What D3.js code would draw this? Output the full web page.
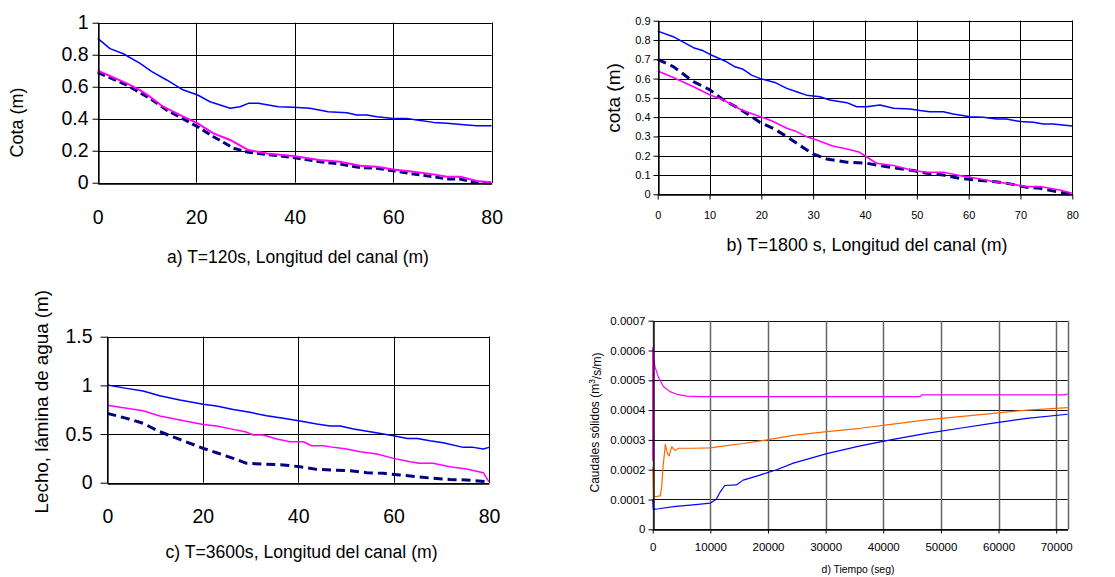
<!DOCTYPE html>
<html><head><meta charset="utf-8">
<script src="https://cdn.jsdelivr.net/npm/d3@7"></script>
<style>
body{margin:0;background:#fff}
svg{display:block}
text{font-family:"Liberation Sans",Arial,sans-serif;fill:#000}
</style>
</head><body>
<svg id="c" width="1115" height="577"></svg>
<script>
// ---------- Panel a: T=120s ----------
const aWaterX = [0,2.5,5.2,8.6,11,14,17.4,20.3,22.8,26.9,28.9,30.6,32.6,36.7,39.7,43.1,46.8,50.6,52.6,54.6,56.7,60,62.7,64.8,68.2,70.9,75,77,80];
const aWaterY = [0.902,0.838,0.806,0.746,0.694,0.642,0.579,0.548,0.506,0.465,0.475,0.496,0.496,0.475,0.471,0.465,0.444,0.4375,0.423,0.423,0.4125,0.402,0.402,0.392,0.377,0.371,0.36,0.356,0.356];
const aCalcX = [0,2.5,5.9,8.6,10.6,13.3,17.4,20.3,23.5,26.9,30.6,34.3,39.7,45,49.2,53.3,56.7,60,64.1,68.2,70.9,73.6,77,80];
const aCalcY = [0.70,0.667,0.621,0.579,0.5375,0.475,0.4125,0.371,0.308,0.267,0.204,0.183,0.167,0.142,0.131,0.106,0.1,0.083,0.069,0.052,0.0375,0.0375,0.0104,0.002];
const aBedX = [0,5.9,10.6,14,20.3,23.5,27.6,30.6,34.3,39.7,45,49.2,53.3,56.7,60,64.1,68.2,70.9,73.6,77,80];
const aBedY = [0.69,0.61,0.527,0.454,0.35,0.2875,0.215,0.19,0.177,0.158,0.131,0.117,0.094,0.09,0.075,0.054,0.0375,0.023,0.023,0,0];
const aXTicks = [0,20,40,60,80];
const aYTicks = [0,0.2,0.4,0.6,0.8,1];

// ---------- Panel b: T=1800 s ----------
const bWaterX = [0,3,6.9,8.8,10.1,13.3,14.9,16.5,18.1,19.7,22.6,24.9,26.8,28.7,31.3,33.2,36.5,38.4,40.3,42.9,45.5,48.7,50.6,52.5,55.1,57,60.3,62.8,65.4,67.3,69.9,72.5,74.4,76.3,80];
const bWaterY = [0.846,0.817,0.760,0.744,0.725,0.687,0.661,0.648,0.618,0.601,0.580,0.549,0.532,0.514,0.506,0.489,0.475,0.454,0.454,0.463,0.446,0.442,0.434,0.428,0.428,0.416,0.402,0.399,0.390,0.390,0.377,0.373,0.364,0.364,0.354];
const bCalcX = [0,3,6.9,10.1,12.7,16.2,19.7,20.7,22.3,24.9,26.8,28.7,30.7,33.6,36.5,38.7,40,42.2,45.5,49.3,51.9,55.1,58.3,61.5,64.8,68,71.2,73.8,77.6,80];
const bCalcY = [0.639,0.606,0.558,0.515,0.489,0.437,0.403,0.394,0.377,0.342,0.325,0.299,0.282,0.252,0.235,0.221,0.200,0.161,0.149,0.123,0.114,0.114,0.097,0.083,0.066,0.054,0.040,0.040,0.022,0.005];
const bBedX = [0,3,6.9,10.1,12.7,15.6,18.1,19.7,22.3,24.9,27.5,30,32.6,36.5,40.3,42.9,45.5,49.3,51.9,55.1,58.3,61.5,64.8,68,71.2,73.8,77.6,80];
const bBedY = [0.700,0.662,0.584,0.541,0.489,0.446,0.403,0.373,0.342,0.299,0.252,0.209,0.183,0.166,0.161,0.149,0.138,0.123,0.109,0.100,0.083,0.074,0.066,0.054,0.036,0.031,0.010,0];
const bXTicks = [0,10,20,30,40,50,60,70,80];
const bYTicks = [0,0.1,0.2,0.3,0.4,0.5,0.6,0.7,0.8,0.9];

// ---------- Panel c: T=3600s ----------
const cWaterX = [0,4.05,7.5,11,15.2,20.1,22.9,26.4,29.9,33.4,36.9,40.4,43.9,46.7,48.8,51.6,55.1,60,62.9,65,67.6,70.4,74.6,76.7,78.8,80];
const cWaterY = [1.003,0.969,0.942,0.894,0.849,0.805,0.788,0.753,0.723,0.688,0.661,0.634,0.603,0.582,0.582,0.551,0.524,0.483,0.455,0.455,0.432,0.411,0.363,0.363,0.346,0.363];
const cCalcX = [0,4.05,7.5,11,15.2,20.1,22.9,26.4,28.9,30.6,32.7,35.5,38.3,41.1,42.8,45.3,47.4,50.2,53,56.5,60,63.5,65.5,68.3,71.8,75.3,78.8,80];
const cCalcY = [0.795,0.764,0.740,0.685,0.644,0.599,0.582,0.548,0.524,0.490,0.490,0.449,0.421,0.421,0.380,0.380,0.363,0.346,0.318,0.295,0.250,0.216,0.199,0.199,0.164,0.140,0.103,0.01];
const cBedX = [0,4.05,7.5,11,15.2,20.1,22.9,26.4,29.2,32.7,36.9,40.4,43.9,47.4,50.9,54.4,57.9,61.3,64.8,68.3,71.8,75.3,80];
const cBedY = [0.712,0.661,0.610,0.524,0.445,0.353,0.308,0.250,0.199,0.192,0.182,0.164,0.137,0.130,0.123,0.103,0.096,0.079,0.062,0.045,0.034,0.027,0.01];
const cXTicks = [0,20,40,60,80];
const cYTicks = [0,0.5,1,1.5];

// ---------- Panel d: sediment discharge vs time ----------
const dMagT = [0,0,100,400,1000,1850,3000,4200,5900,8200,46500,46600,71500,72000];
const dMagV = [0.00023,0.00061,0.00058,0.000545,0.00051,0.000479,0.000462,0.000453,0.000447,0.000445,0.000445,0.000451,0.000451,0.000455];
const dOrgT = [0,150,600,1300,1550,1800,2200,2550,2850,3300,3900,4500,7000,10000,12800,15700,19800,24400,30200,36000,41700,47500,53300,59100,64900,72000];
const dOrgV = [0.00021,0.00011,0.00011,0.000112,0.00014,0.00021,0.000285,0.000255,0.000246,0.000277,0.000264,0.000272,0.000272,0.000273,0.000281,0.000288,0.0003,0.000315,0.000328,0.000339,0.000353,0.000367,0.000378,0.000389,0.0004,0.000408];
const dBluT = [0,100,1000,4000,7000,10000,11000,11700,12500,14500,15700,18600,21500,24400,30200,36000,41700,47500,53300,59100,64900,72000];
const dBluV = [0.0001,0.000067,0.000069,0.000077,0.000082,0.000088,0.0001,0.000125,0.000147,0.000149,0.000165,0.000182,0.0002,0.000222,0.000254,0.00028,0.000302,0.000322,0.000339,0.000356,0.000372,0.000386];
const dXTicks = [0,10000,20000,30000,40000,50000,60000,70000];
const dYTicks = [0,0.0001,0.0002,0.0003,0.0004,0.0005,0.0006,0.0007];

const svg = d3.select("#c");
const zip = (xs, ys) => xs.map((v, i) => [v, ys[i]]);

function panel(cfg) {
  const x = d3.scaleLinear().domain(cfg.xDomain).range([cfg.l, cfg.r]);
  const y = d3.scaleLinear().domain(cfg.yDomain).range([cfg.b, cfg.t]);
  const g = svg.append("g");
  // horizontal grid
  g.selectAll(null).data(cfg.yTicks).join("line")
    .attr("x1", cfg.l).attr("x2", cfg.r)
    .attr("y1", d => Math.round(y(d)) + 0.5).attr("y2", d => Math.round(y(d)) + 0.5)
    .attr("stroke", cfg.gridH).attr("stroke-width", cfg.gwH);
  // vertical grid
  g.selectAll(null).data(cfg.xTicks.concat([cfg.xDomain[1]])).join("line")
    .attr("y1", cfg.t).attr("y2", cfg.b)
    .attr("x1", d => Math.round(x(d)) + 0.5).attr("x2", d => Math.round(x(d)) + 0.5)
    .attr("stroke", cfg.gridV).attr("stroke-width", cfg.gwV);
  // series
  const line = d3.line().x(d => x(d[0])).y(d => y(d[1]));
  cfg.series.forEach(s => {
    g.append("path").attr("d", line(s.data)).attr("fill", "none")
      .attr("stroke", s.color).attr("stroke-width", s.w)
      .attr("stroke-dasharray", s.dash || null)
      .attr("stroke-linejoin", "round");
  });
  // axes
  const ay = g.append("g").attr("transform", `translate(${Math.round(cfg.l) + 0.5},0)`)
    .call(d3.axisLeft(y).tickValues(cfg.yTicks).tickFormat(d => String(d))
      .tickSize(cfg.yts).tickPadding(cfg.ytp).tickSizeOuter(0));
  const ax = g.append("g").attr("transform", `translate(0,${Math.round(cfg.b) + 0.5})`)
    .call(d3.axisBottom(x).tickValues(cfg.xTicks).tickFormat(d => String(d))
      .tickSize(cfg.xts).tickPadding(cfg.xtp).tickSizeOuter(0));
  [ay, ax].forEach(a => {
    a.select(".domain").attr("stroke", "#000").attr("stroke-width", 1.3);
    a.selectAll(".tick line").attr("stroke", "#000");
    a.selectAll("text").attr("font-size", cfg.tickFont + "px")
      .attr("font-family", '"Liberation Sans", Arial, sans-serif').attr("fill", "#000");
  });
  // caption
  g.append("text").attr("x", cfg.capX).attr("y", cfg.capY).attr("dy", "0.35em")
    .attr("text-anchor", "middle").attr("font-size", cfg.capFont + "px").text(cfg.caption);
  // y title
  const yt = g.append("text").attr("transform", `translate(${cfg.ytX},${cfg.ytY}) rotate(-90)`)
    .attr("dy", "0.35em").attr("text-anchor", "middle").attr("font-size", cfg.ytFont + "px");
  if (cfg.ytParts) {
    cfg.ytParts.forEach(p => {
      const ts = yt.append("tspan").text(p.t);
      if (p.sup) ts.attr("dy", "-0.45em").attr("font-size", "0.7em");
      if (p.after) ts.attr("dy", "0.45em");
    });
  } else yt.text(cfg.yTitle);
}

// Panel a
panel({
  l: 97.7, r: 491.7, t: 22.7, b: 182.7, xDomain: [0, 80], yDomain: [0, 1],
  xTicks: aXTicks, yTicks: aYTicks, gridH: "#000", gridV: "#000", gwH: 1, gwV: 1,
  yts: 6, ytp: 4, xts: 0, xtp: 27, tickFont: 19.5,
  caption: "a) T=120s, Longitud del canal (m)", capX: 298, capY: 256.7, capFont: 17.5,
  yTitle: "Cota (m)", ytX: 17, ytY: 122.5, ytFont: 18,
  series: [
    { data: zip(aBedX, aBedY), color: "#000080", w: 3, dash: "8,4" },
    { data: zip(aCalcX, aCalcY), color: "#FF00FF", w: 2 },
    { data: zip(aWaterX, aWaterY), color: "#0000FF", w: 1.5 }
  ]
});

// Panel b
panel({
  l: 657.7, r: 1072.3, t: 20.7, b: 194.3, xDomain: [0, 80], yDomain: [0, 0.9],
  xTicks: bXTicks, yTicks: bYTicks, gridH: "#000", gridV: "#000", gwH: 1, gwV: 1,
  yts: 5, ytp: 3, xts: 5, xtp: 12, tickFont: 11,
  caption: "b) T=1800 s, Longitud del canal (m)", capX: 867, capY: 245, capFont: 17.8,
  yTitle: "cota (m)", ytX: 613, ytY: 98, ytFont: 19,
  series: [
    { data: zip(bBedX, bBedY), color: "#000080", w: 3, dash: "9,5" },
    { data: zip(bCalcX, bCalcY), color: "#FF00FF", w: 1.6 },
    { data: zip(bWaterX, bWaterY), color: "#0000FF", w: 1.5 }
  ]
});

// Panel c
panel({
  l: 107.3, r: 489, t: 336.7, b: 482.7, xDomain: [0, 80], yDomain: [0, 1.5],
  xTicks: cXTicks, yTicks: cYTicks, gridH: "#000", gridV: "#000", gwH: 1, gwV: 1,
  yts: 7, ytp: 8, xts: 0, xtp: 25.5, tickFont: 19.5,
  caption: "c) T=3600s, Longitud del canal (m)", capX: 301.5, capY: 551.7, capFont: 17.6,
  yTitle: "Lecho, lámina de agua (m)", ytX: 41.7, ytY: 401.7, ytFont: 18.8,
  series: [
    { data: zip(cBedX, cBedY), color: "#000080", w: 3, dash: "9,5" },
    { data: zip(cCalcX, cCalcY), color: "#FF00FF", w: 1.5 },
    { data: zip(cWaterX, cWaterY), color: "#0000FF", w: 1.5 }
  ]
});

// Panel d
panel({
  l: 652.7, r: 1067.7, t: 320.7, b: 529.3, xDomain: [0, 72000], yDomain: [0, 0.0007],
  xTicks: dXTicks, yTicks: dYTicks, gridH: "#111", gridV: "#666", gwH: 1.2, gwV: 1.5,
  yts: 5, ytp: 3, xts: 4, xtp: 9.5, tickFont: 11.5,
  caption: "d) Tiempo (seg)", capX: 858, capY: 569.3, capFont: 10.4,
  ytParts: [{ t: "Caudales sólidos (m" }, { t: "3", sup: true }, { t: "/s/m)", after: true }],
  ytX: 595, ytY: 422.5, ytFont: 12,
  series: [
    { data: zip(dMagT, dMagV), color: "#FF00FF", w: 1.2 },
    { data: zip(dOrgT, dOrgV), color: "#FF6600", w: 1.2 },
    { data: zip(dBluT, dBluV), color: "#0000FF", w: 1.2 }
  ]
});
</script>
</body></html>
